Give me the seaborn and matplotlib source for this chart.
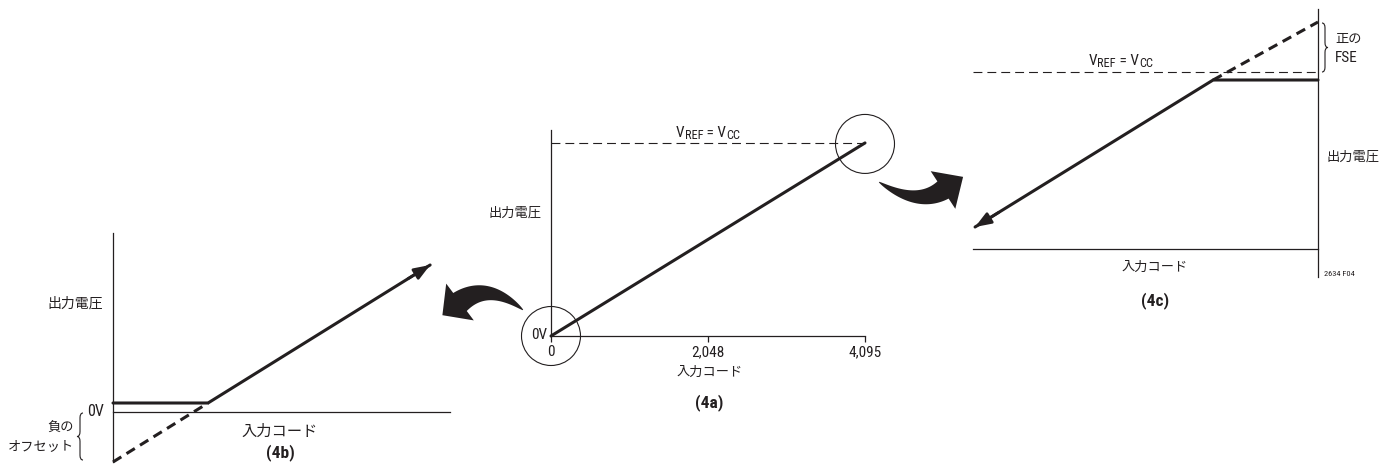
import numpy as np
import matplotlib
matplotlib.use("Agg")
import matplotlib.pyplot as plt
import seaborn as sns
from matplotlib.patches import Circle, PathPatch
from matplotlib.path import Path

# ---- (4a) ideal transfer function: output in units of VREF ----
a_code = [0, 4095]
a_out = [0.0, 1.0]
a_vref = 1.0
a_ticks = [0, 2048, 4095]
a_ticklabels = ["0", "2,048", "4,095"]

# ---- (4b) zoom at zero scale: negative offset ----
b_code = [0.0, 0.282, 0.941]
b_out = [0.045, 0.045, 0.735]
b_ideal_code = [0.0, 0.282]
b_ideal_out = [-0.25, 0.045]

# ---- (4c) zoom at full scale: positive full-scale error ----
c_code = [0.006, 0.696, 1.0]
c_out = [0.11, 0.845, 0.845]
c_ideal_code = [0.696, 1.0]
c_ideal_out = [0.845, 1.135]
c_vref = 0.885

INK = "#231f20"
W, H = 1384, 469
LATIN = "Roboto Condensed"
CJK = "Noto Sans CJK JP"

sns.set_theme(style="white")
plt.rcParams["font.family"] = [LATIN, CJK]
plt.rcParams["text.color"] = INK

fig = plt.figure(figsize=(W / 100, H / 100), dpi=100)
fig.patch.set_facecolor("white")

# full-figure pixel canvas for annotations
ov = fig.add_axes([0, 0, 1, 1])
ov.set_xlim(0, W)
ov.set_ylim(H, 0)
ov.axis("off")
ov.patch.set_alpha(0)


def px_axes(left, right, top, bottom):
    ax = fig.add_axes([left / W, 1 - bottom / H, (right - left) / W, (bottom - top) / H])
    ax.patch.set_alpha(0)
    for s in ax.spines.values():
        s.set_color(INK)
        s.set_linewidth(0.9)
    return ax


def to_px(ax, x, y):
    return ov.transData.inverted().transform(ax.transData.transform((x, y)))


def arrow_end(ax, xs, ys):
    x0, x1 = xs[-2], xs[-1]
    y0, y1 = ys[-2], ys[-1]
    f = 0.9
    ax.annotate("", xy=(x1, y1), xytext=(x0 + f * (x1 - x0), y0 + f * (y1 - y0)),
                arrowprops=dict(arrowstyle="-|>,head_length=0.95,head_width=0.36",
                                color=INK, lw=2.0, shrinkA=0, shrinkB=0,
                                mutation_scale=10), annotation_clip=False)


def swoosh(p0, c, p1, head_len, w_end, head_w):
    p0, c, p1 = map(np.asarray, (p0, c, p1))
    t = np.linspace(0, 1, 80)[:, None]
    pts = (1 - t) ** 2 * p0 + 2 * (1 - t) * t * c + t ** 2 * p1
    d = 2 * (1 - t) * (c - p0) + 2 * t * (p1 - c)
    d /= np.linalg.norm(d, axis=1, keepdims=True)
    n = np.column_stack([-d[:, 1], d[:, 0]])
    w = (0.5 + w_end * t[:, 0] ** 0.75) / 2
    upper = pts + n * w[:, None]
    lower = pts - n * w[:, None]
    tip = p1 + d[-1] * head_len
    b1 = p1 + n[-1] * head_w / 2
    b2 = p1 - n[-1] * head_w / 2
    poly = np.vstack([upper, b1, tip, b2, lower[::-1]])
    ov.fill(poly[:, 0], poly[:, 1], color=INK, lw=0)


def brace(x, y0, y1, w, side):
    ym = (y0 + y1) / 2
    xs = x + side * w / 2
    xt = x + side * w
    r = w * 0.8
    verts = [(x, y0), (xs, y0), (xs, y0 + r), (xs, ym - r), (xs, ym), (xt, ym),
             (xs, ym), (xs, ym + r), (xs, y1 - r), (xs, y1), (x, y1)]
    codes = [Path.MOVETO, Path.CURVE3, Path.CURVE3, Path.LINETO, Path.CURVE3, Path.CURVE3,
             Path.CURVE3, Path.CURVE3, Path.LINETO, Path.CURVE3, Path.CURVE3]
    ov.add_patch(PathPatch(Path(verts, codes), fill=False, lw=0.8, color=INK))


def vref_label(x_left, y_bottom, size=11):
    """V_REF = V_CC written as chained pieces with large, low subscripts."""
    pieces = [("V", size, 0.0), ("REF", size * 0.8, -1.5),
              (" = V", size, 0.0), ("CC", size * 0.8, -1.5)]
    prev = ov.text(x_left, y_bottom, pieces[0][0], ha="left", va="bottom", fontsize=pieces[0][1])
    last_drop = 0.0
    for txt, sz, drop in pieces[1:]:
        prev = ov.annotate(txt, xy=(1, 0), xycoords=prev, xytext=(0, drop - last_drop),
                           textcoords="offset points", ha="left", va="bottom", fontsize=sz)
        last_drop = drop


thin_dash = (0, (8, 4.5))
thick_dash = (0, (3.2, 2.0))
JP = dict(fontsize=9.5)

# ================= (4a) =================
ax_a = px_axes(551, 865, 130, 336)
sns.lineplot(x=a_code, y=a_out, ax=ax_a, color=INK, lw=2.2, clip_on=False)
sns.lineplot(x=[a_code[0], a_code[-1]], y=[a_vref, a_vref], ax=ax_a, color=INK,
             lw=0.8, linestyle=thin_dash, clip_on=False)
ax_a.set_xlim(0, 4095)
ax_a.set_ylim(0, 1.067)
ax_a.spines[["top", "right"]].set_visible(False)
ax_a.set_xticks(a_ticks, a_ticklabels)
ax_a.set_yticks([])
ax_a.tick_params(axis="x", direction="out", length=4, width=0.9, pad=2.5,
                 labelsize=11, colors=INK, bottom=True)
ax_a.set_xlabel("")
ax_a.set_ylabel("")

for (x, y) in [(a_code[0], a_out[0]), (a_code[-1], a_out[-1])]:
    cx, cy = to_px(ax_a, x, y)
    ov.add_patch(Circle((cx, cy + (1 if y > 0 else 0)), 29.5, fill=False, lw=0.8, color=INK))

ov.text(515, 213, "出力電圧", ha="center", va="center", **JP)
ov.text(547, 335, "0V", ha="right", va="center", fontsize=11)
ov.text(710, 372, "入力コード", ha="center", va="center", **JP)
ov.text(709, 403, "(4a)", ha="center", va="center", fontsize=12.5, fontweight="bold")
vref_label(676, 140)

# ================= (4b) =================
ax_b = px_axes(113, 450, 233, 462)
sns.lineplot(x=b_code, y=b_out, ax=ax_b, color=INK, lw=2.2, clip_on=False)
sns.lineplot(x=b_ideal_code, y=b_ideal_out, ax=ax_b, color=INK, lw=2.2,
             linestyle=thick_dash, clip_on=False)
arrow_end(ax_b, b_code, b_out)
ax_b.set_xlim(0, 1)
ax_b.set_ylim(-0.25, 0.895)
ax_b.spines[["top", "right"]].set_visible(False)
ax_b.spines["bottom"].set_position(("data", 0))
ax_b.set_xticks([])
ax_b.set_yticks([])
ax_b.set_xlabel("")
ax_b.set_ylabel("")

ov.text(75, 304, "出力電圧", ha="center", va="center", fontsize=10)
ov.text(104, 411, "0V", ha="right", va="center", fontsize=11.5)
ov.text(74, 428, "負の", ha="right", va="center", **JP)
ov.text(74, 447, "オフセット", ha="right", va="center", **JP)
brace(83, 413, 460, 6, -1)
ov.text(280, 432, "入力コード", ha="center", va="center", fontsize=11)
ov.text(280, 453, "(4b)", ha="center", va="center", fontsize=12.5, fontweight="bold")

# ================= (4c) =================
ax_c = px_axes(973, 1318, 9, 277)
sns.lineplot(x=c_code, y=c_out, ax=ax_c, color=INK, lw=2.2, clip_on=False)
sns.lineplot(x=c_ideal_code, y=c_ideal_out, ax=ax_c, color=INK, lw=2.2,
             linestyle=thick_dash, clip_on=False)
sns.lineplot(x=[0, 1], y=[c_vref, c_vref], ax=ax_c, color=INK, lw=0.8,
             linestyle=thin_dash, clip_on=False)
arrow_end(ax_c, c_code[::-1], c_out[::-1])
ax_c.set_xlim(0, 1)
ax_c.set_ylim(-0.14, 1.2)
ax_c.spines[["top", "left"]].set_visible(False)
ax_c.spines["bottom"].set_position(("data", 0))
ax_c.set_xticks([])
ax_c.set_yticks([])
ax_c.set_xlabel("")
ax_c.set_ylabel("")

vref_label(1089, 68)
ov.text(1335, 39, "正の", ha="left", va="center", **JP)
ov.text(1335, 58, "FSE", ha="left", va="center", fontsize=11)
brace(1322, 23, 72, 6, 1)
ov.text(1353, 157, "出力電圧", ha="center", va="center", **JP)
ov.text(1155, 267, "入力コード", ha="center", va="center", **JP)
ov.text(1155, 301, "(4c)", ha="center", va="center", fontsize=12.5, fontweight="bold")
ov.text(1339, 274, "2634 F04", ha="center", va="center", fontsize=6)

# curved pointers from the zoom circles
swoosh((523, 310), (488, 281), (460, 302), head_len=22, w_end=22, head_w=46)
swoosh((879, 182), (917, 207), (943, 190), head_len=24, w_end=20, head_w=45)

fig.savefig("out.png", dpi=100, facecolor="white")
